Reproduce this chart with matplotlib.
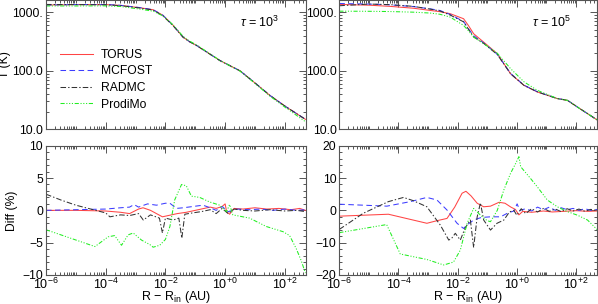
import numpy as np
import matplotlib
matplotlib.use('Agg')
import matplotlib.pyplot as plt
from matplotlib.ticker import FixedLocator, FixedFormatter, MultipleLocator, NullFormatter

plt.rcParams['font.family'] = ['Liberation Sans', 'DejaVu Sans']
plt.rcParams['mathtext.fontset'] = 'custom'
plt.rcParams['mathtext.rm'] = 'Liberation Sans'
plt.rcParams['mathtext.it'] = 'Liberation Sans:italic'
plt.rcParams['mathtext.sf'] = 'Liberation Sans'
plt.rcParams['lines.scale_dashes'] = False
fs = 8.7

codes = ['TORUS', 'MCFOST', 'RADMC', 'ProdiMo']
taus = ['3', '5']

#%% Temperature, tau = 1e3  (x given as log10(R - Rin))
lgxT1 = [-6, -5, -4, -3.5, -2.86, -2.41, -2.08, -1.74, -1.41, -1.2, -0.96, -0.18, 0.5, 1.0, 1.5, 2.0, 2.69]
T1_torus   = [1335, 1360, 1360, 1317, 1203, 1110, 890, 600, 378, 318, 273, 151, 100, 62, 38, 25, 14.8]
T1_mcfost  = [1335, 1362, 1365, 1322, 1210, 1112, 890, 598, 380, 318, 273, 151, 100, 62.3, 38, 25, 14.8]
T1_radmc   = [1368, 1360, 1350, 1305, 1190, 1095, 870, 590, 376, 316, 272, 150, 100, 62, 38, 25, 14.8]
T1_prodimo = [1290, 1290, 1295, 1262, 1140, 1050, 870, 610, 390, 325, 278, 152, 99, 61, 37, 24, 13.5]

#%% Temperature, tau = 1e5
lgxT2 = [-6, -5, -4.3, -3.5, -2.93, -2.6, -2.25, -1.8, -1.63, -1.46, -1.12, -0.66, -0.21, 0.24, 0.69,
         1.37, 1.71, 2.05, 2.73]
T2_torus   = [1370, 1330, 1270, 1180, 1082, 1030, 950, 780, 590, 432, 310, 197, 89, 56.5, 43.6, 33.5, 31.3, 24, 14.3]
T2_mcfost  = [1420, 1390, 1350, 1260, 1150, 1080, 920, 700, 520, 400, 300, 192, 90, 57, 44, 33.6, 31.4, 24, 14.3]
T2_radmc   = [1300, 1390, 1360, 1270, 1140, 1060, 900, 690, 510, 380, 295, 190, 89, 56.5, 43.8, 33.5, 31.3, 24, 14.3]
T2_prodimo = [1050, 1045, 1035, 1010, 975, 930, 830, 600, 480, 380, 292, 200, 109, 65, 46.5, 33.5, 31.3, 24, 14.3]

#%% Differences (%), tau = 1e3
lgxD1_torus = [-6, -5, -4, -3.5, -3.2, -2.9, -2.75, -2.5, -2.3, -2.1, -1.9, -1.6, -1.3, -1.0, -0.8, -0.5,
               -0.3, -0.1, 0.0, 0.05, 0.15, 0.3, 0.6, 1.0, 1.4, 1.8, 2.2, 2.5, 2.69]
D1_torus = [0, 0, -0.1, -0.3, -0.5, 0.2, 0.4, 0, -0.5, -1.0, -0.8, -0.5, -0.3, 0.0, 0.2, 0.5,
            0.3, 0.6, 1.0, -0.2, -0.6, 0.3, 0.2, 0.4, 0.2, 0.3, 0.1, 0.3, 0.0]
lgxD1_mcfost = [-6, -5, -4, -3.5, -3.2, -3.05, -2.9, -2.6, -2.3, -2.0, -1.85, -1.63, -1.4, -1.07, -0.74,
                -0.5, -0.3, -0.1, 0.1, 0.4, 0.8, 1.2, 1.6, 2.0, 2.4, 2.69]
D1_mcfost = [0, 0.1, 0.2, 0.4, 0.5, 0.9, 0.5, 1.0, 0.8, 1.1, 1.1, 0.3, 0.4, 0.6, 0.8,
             0.4, 0.0, 0.6, -0.2, 0.2, 0.1, 0.2, 0.0, 0.2, 0.0, 0.1]
lgxD1_radmc = [-6, -5.5, -5, -4.5, -4, -3.86, -3.5, -3.2, -2.9, -2.74, -2.5, -2.2, -2.1, -2.0, -1.74,
               -1.55, -1.45, -1.35, -1.1, -0.8, -0.5, -0.3, -0.1, 0.1, 0.3, 0.6, 1.0, 1.5, 2.0, 2.4, 2.69]
D1_radmc = [2.5, 1.6, 0.8, 0.2, -0.4, -1.0, -0.7, -0.8, -0.5, -1.5, -0.7, -1.2, -3.5, -1.2, -1.5,
            -1.2, -4.3, -0.6, -0.4, -0.2, 0.1, -0.5, 0.3, -0.5, 0.2, 0.0, -0.1, 0.1, -0.1, 0.0, -0.2]
lgxD1_prodimo = [-6, -4.36, -3.92, -3.7, -3.47, -3.25, -3.08, -2.8, -2.52, -2.41, -2.19, -2.0, -1.85,
                 -1.69, -1.46, -1.30, -1.13, -0.85, -0.52, -0.18, 0.05, 0.15, 0.26, 0.82, 1.38, 1.94,
                 2.16, 2.39, 2.55, 2.69]
D1_prodimo = [-3.0, -5.6, -4.1, -3.9, -5.4, -3.8, -3.5, -4.6, -5.3, -5.7, -5.4, -4.5, -2.5,
              1.6, 4.0, 3.8, 2.2, 2.0, 1.3, 0.8, -0.2, 0.9, -0.7, -1.2, -2.5, -3.3,
              -3.9, -6.0, -7.8, -9.7]

#%% Differences (%), tau = 1e5
lgxD2_torus = [-6, -4.34, -3.04, -2.7, -2.36, -2.1, -1.85, -1.72, -1.55, -1.34, -1.12, -0.89, -0.6, -0.4,
               -0.2, -0.05, 0.07, 0.2, 0.5, 0.9, 1.2, 1.6, 2.0, 2.4, 2.73]
D2_torus = [-1.8, -1.2, -4.0, -3.2, -2.5, 1.0, 5.3, 5.9, 4.5, 2.2, 1.1, 1.3, 2.5, 2.2,
            1.0, 0.3, -1.4, -0.3, -0.6, -0.2, -0.5, -0.3, -0.1, -0.3, -0.2]
lgxD2_mcfost = [-6, -4.39, -3.6, -3.04, -2.70, -2.36, -2.02, -1.80, -1.68, -1.46, -1.2, -0.89, -0.55, -0.3,
                -0.1, 0.01, 0.1, 0.3, 0.5, 0.7, 0.9, 1.1, 1.3, 1.5, 1.7, 1.9, 2.1, 2.3, 2.5, 2.73]
D2_mcfost = [1.9, 1.3, 2.7, 4.0, 3.2, 0.1, -4.0, -5.6, -4.5, -3.0, -2.2, -2.0, -2.0, -0.8,
             -0.2, 2.0, 0.0, 0.5, -0.2, 1.0, 0.2, 1.0, 0.0, 0.8, 0.2, 0.6, 0.0, 0.5, 0.0, 0.3]
lgxD2_radmc = [-6, -5.19, -4.34, -3.83, -3.5, -3.04, -2.59, -2.3, -2.19, -2.08, -1.91, -1.75, -1.57, -1.46,
               -1.34, -1.23, -1.12, -0.89, -0.67, -0.44, -0.25, -0.1, 0.0, 0.15, 0.3, 0.5, 0.7, 0.9, 1.1,
               1.3, 1.5, 1.7, 1.9, 2.1, 2.3, 2.5, 2.73]
D2_radmc = [-5.9, -0.9, 2.7, 4.0, 3.0, 1.1, -4.5, -9.2, -8.5, -7.1, -9.2, -5.5, -3.0, -11.5,
            -2.0, 2.3, -3.0, -6.1, -4.0, -3.0, -0.5, 0.0, -1.5, 0.5, -1.0, 0.5, -0.5, 0.6, -0.3,
            0.4, -0.4, 0.5, -0.2, 0.4, -0.3, 0.3, -0.1]
lgxD2_prodimo = [-6, -4.4, -3.94, -3.04, -2.47, -2.14, -1.91, -1.68, -1.46, -1.23, -1.0, -0.89, -0.66,
                 -0.44, -0.21, -0.04, 0.07, 0.13, 0.46, 0.69, 1.03, 1.37, 1.71, 2.05, 2.39, 2.73]
D2_prodimo = [-6.9, -4.4, -13.5, -15.2, -16.9, -16.0, -12.3, -4.0, 0.6, -1.5, -3.2, -3.5, 0.0,
              6.3, 11.5, 14.5, 16.6, 13.5, 9.9, 7.3, 3.2, 1.1, -0.4, -1.5, -3.0, -6.1]

#%% Styles
styles = {'TORUS':   dict(color='#ff4444', ls='-'),
          'MCFOST':  dict(color='#3c3cff', dashes=(4, 2.5)),
          'RADMC':   dict(color='#333333', dashes=(4, 1.5, 1, 1.5)),
          'ProdiMo': dict(color='#22ee22', dashes=(3, 1.2, 0.8, 1.2, 0.8, 1.2, 0.8, 1.2))}
lw = 0.75
spcol = '#555555'

T_sets = [[T1_torus, T1_mcfost, T1_radmc, T1_prodimo], [T2_torus, T2_mcfost, T2_radmc, T2_prodimo]]
lgxT = [lgxT1, lgxT2]
D_sets = [[(lgxD1_torus, D1_torus), (lgxD1_mcfost, D1_mcfost), (lgxD1_radmc, D1_radmc), (lgxD1_prodimo, D1_prodimo)],
          [(lgxD2_torus, D2_torus), (lgxD2_mcfost, D2_mcfost), (lgxD2_radmc, D2_radmc), (lgxD2_prodimo, D2_prodimo)]]

fig = plt.figure(figsize=(5.98, 3.04), dpi=100)
lefts = [0.0769, 0.5674]
widths = [0.4343, 0.4304]
axT = [fig.add_axes([lefts[i], 0.5747, widths[i], 0.4237]) for i in range(2)]
axD = [fig.add_axes([lefts[i], 0.0954, widths[i], 0.4253]) for i in range(2)]

xmaj = [1e-6, 1e-4, 1e-2, 1e0, 1e2]
xlab = ['10$^{-6}$', '10$^{-4}$', '10$^{-2}$', '10$^{+0}$', '10$^{+2}$']
xmin = [m * 10.0**k for k in range(-6, 3) for m in range(1, 10)]
xmin = [v for v in xmin if v not in xmaj and v < 500]

def style_axis(ax):
    ax.set_xscale('log')
    ax.set_xlim(1e-6, 500)
    ax.xaxis.set_major_locator(FixedLocator(xmaj))
    ax.xaxis.set_minor_locator(FixedLocator(xmin))
    ax.xaxis.set_minor_formatter(NullFormatter())
    ax.tick_params(which='both', direction='in', top=True, right=True, color=spcol,
                   labelsize=fs, width=0.7)
    ax.tick_params(which='major', length=4.8, pad=2)
    ax.tick_params(which='minor', length=2.5)
    ax.tick_params(axis='x', which='major', pad=1.5, labelsize=fs + 0.3)
    for sp in ax.spines.values():
        sp.set_color(spcol)
        sp.set_linewidth(0.8)

for i in range(2):
    ax = axT[i]
    for c, T in zip(codes, T_sets[i]):
        ax.plot(10.0**np.array(lgxT[i]), T, lw=lw, label=c, **styles[c])
    ax.set_yscale('log')
    ax.set_ylim(10, 1600)
    style_axis(ax)
    ax.yaxis.set_major_locator(FixedLocator([10, 100, 1000]))
    ax.yaxis.set_major_formatter(FixedFormatter(['10.0', '100.0', '1000.']))
    ax.yaxis.set_minor_locator(FixedLocator([m * 10.0**k for k in (1, 2) for m in range(2, 10)]))
    ax.yaxis.set_minor_formatter(NullFormatter())
    ax.set_xticklabels([])
    ax.text(0.747, 0.83, r'$\tau$ = 10$^{%s}$' % taus[i], transform=ax.transAxes,
            fontsize=fs + 0.3, va='center', ha='left')

    ax = axD[i]
    for c, (lx, d) in zip(codes, D_sets[i]):
        ax.plot(10.0**np.array(lx), d, lw=lw, **styles[c])
    style_axis(ax)
    ax.set_xticklabels(xlab)
    ax.set_xlabel(r'R $-$ R$_{\rm in}$ (AU)', fontsize=fs + 0.3, labelpad=-2.2)
    if i == 0:
        ax.set_ylim(-10, 10)
        ax.yaxis.set_major_locator(MultipleLocator(5))
        ax.yaxis.set_minor_locator(MultipleLocator(1))
    else:
        ax.set_ylim(-20, 20)
        ax.yaxis.set_major_locator(MultipleLocator(10))
        ax.yaxis.set_minor_locator(MultipleLocator(2))

axT[0].set_ylabel('T (K)', fontsize=fs, labelpad=1)
axD[0].set_ylabel('Diff (%)', fontsize=fs, labelpad=3)
axT[0].legend(loc='upper left', bbox_to_anchor=(0.054, 0.625), frameon=False, fontsize=fs,
              borderpad=0, borderaxespad=0, handlelength=2.7, handletextpad=0.7,
              labelspacing=0.38)

fig.savefig('out.png', dpi=100)
